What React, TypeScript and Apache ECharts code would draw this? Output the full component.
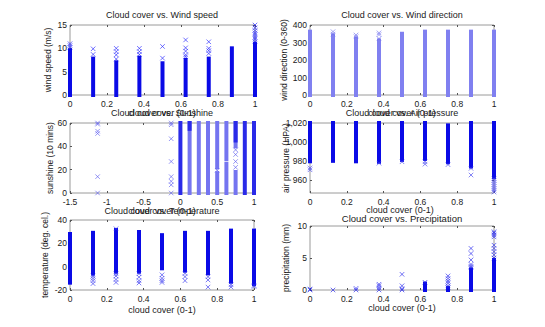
import React, { useEffect, useRef } from "react";
import * as echarts from "echarts";

// ---------- data ----------
const cloudCover = [0, 0.125, 0.25, 0.375, 0.5, 0.625, 0.75, 0.875, 1];
const cloudTicks = [0, 0.2, 0.4, 0.6, 0.8, 1];
const sunshineXTicks = [-1.5, -1, -0.5, 0, 0.5, 1];

// wind speed (m/s)
const windSpeedTicks = [0, 5, 10, 15];
const windSpeedDenseTop = [9.6, 7.8, 7.0, 8.0, 6.8, 7.5, 7.8, 10, 11];
const windSpeedMarks: number[][] = [
  [0, 10.2], [0, 10.6], [0, 11], [0.125, 8.7], [0.125, 9.9],
  [0.25, 7.7], [0.25, 8.6], [0.25, 9.3], [0.25, 10], [0.375, 8.7], [0.375, 9.3], [0.375, 10],
  [0.5, 7.9], [0.5, 10.4], [0.625, 8.2], [0.625, 8.6], [0.625, 9.4], [0.625, 10.1], [0.625, 11.8],
  [0.75, 8.9], [0.75, 9.5], [0.75, 10], [0.75, 11.4],
  [1, 11.5], [1, 12], [1, 12.4], [1, 12.9], [1, 13.3], [1, 13.8], [1, 14.4], [1, 15],
];

// wind direction (0-360)
const windDirTicks = [0, 100, 200, 300, 400];
const windDirDenseTop = [362, 340, 322, 312, 350, 362, 362, 362, 362];
const windDirMarks: number[][] = [
  [0.125, 348], [0.125, 362], [0.25, 333], [0.25, 343], [0.375, 322], [0.375, 345], [0.375, 355],
];

// sunshine (10 mins)
const sunshineTicks = [0, 20, 40, 60];
const sunshineDark: number[][] = [
  [0, 0, 60], [0.875, 0, 60], [1, 0, 60], [0.125, 55, 60], [0.75, 45, 60],
];
const sunshineLight: number[][] = [
  [0.125, 0, 60], [0.25, 0, 60], [0.375, 0, 60], [0.5, 0, 17], [0.5, 22, 60],
  [0.625, 0, 25], [0.625, 29, 60], [0.75, 0, 18], [0.75, 40, 60],
];
const sunshineMarks: number[][] = [
  [-1.125, 0], [-1.125, 14], [-1.125, 51], [-1.125, 53], [-1.125, 59], [-1.125, 60],
  [-0.125, 0], [-0.125, 7], [-0.125, 10], [-0.125, 14], [-0.125, 27], [-0.125, 46.5], [-0.125, 58.5], [-0.125, 60],
  [0.5, 19.5], [0.75, 22], [0.75, 27], [0.75, 33], [0.75, 37],
];

// air pressure (HPA)
const pressureTicks = [960, 980, 1000, 1020];
const pressureMin = 946;
const pressureDenseBottom = [979.5, 980, 979.5, 979, 981, 982, 978.5, 974, 963];
const pressureDenseTop = [1020, 1020, 1020, 1020, 1020, 1020, 1017.5, 1020, 1020];
const pressureMarks: number[][] = [
  [0, 972.5], [0, 970.5], [0.375, 977.5], [0.5, 979], [0.625, 979], [0.625, 976.5], [0.75, 976],
  [0.875, 972], [0.875, 965], [1, 961], [1, 959], [1, 957], [1, 955], [1, 953], [1, 951], [1, 949], [1, 947],
];

// temperature (deg. cel.)
const tempTicks = [-20, 0, 20, 40];
const tempDenseTop = [28, 29, 31.4, 29.7, 27, 29, 29, 30.9, 30.9];
const tempDenseBottom = [-13.7, -6, -4.3, -4.3, -1.4, -3.4, -5.7, -12.9, -14.9];
const tempMarks: number[][] = [
  [0.125, -8], [0.125, -10], [0.125, -12], [0.125, -14.5],
  [0.25, 32.5], [0.25, -6], [0.25, -8], [0.25, -11], [0.25, -13.5],
  [0.375, -6], [0.375, -9], [0.375, -12], [0.375, -14],
  [0.5, -7], [0.5, -10], [0.5, -12], [0.5, -13.5],
  [0.625, -5.7], [0.625, -8.6], [0.625, -12],
  [0.75, -8.6], [0.75, -11.4], [0.75, -17.5],
  [0.875, -15.5], [0.875, -17.5], [1, -16], [1, -17],
];

// precipitation (mm)
const precipTicks = [0, 5, 10];
const precipDense: number[][] = [[0.625, 0, 1.0], [0.75, 0, 0.3], [0.875, 0, 3.2], [1, 0, 4.7]];
const precipMarks: number[][] = [
  [0, 0], [0, 0.15], [0.125, 0], [0.25, 0], [0.25, 0.25],
  [0.375, 0], [0.375, 0.3], [0.375, 0.66], [0.375, 0.9],
  [0.5, 0], [0.5, 0.2], [0.5, 0.66], [0.5, 2.45], [0.625, 1.2],
  [0.75, 0.4], [0.75, 0.66], [0.75, 1.07], [0.75, 1.4], [0.75, 1.8], [0.75, 2.2],
  [0.875, 3.5], [0.875, 3.7], [0.875, 4.0], [0.875, 4.7], [0.875, 5.7], [0.875, 6.5],
  [1, 5.0], [1, 5.5], [1, 6.0], [1, 6.5], [1, 7.0], [1, 8.3], [1, 8.6], [1, 8.9], [1, 9.1],
];

// ---------- helpers ----------
const FONT = "Liberation Sans, Arial, Helvetica, sans-serif";
const TXT = "#1a1a1a";
const X_SYMBOL = "path://M0,0L10,10M10,0L0,10";
const BAR_W = 4;

function rangeSeries(i: number, data: number[][], fill: string, w = BAR_W) {
  return {
    type: "custom",
    xAxisIndex: i,
    yAxisIndex: i,
    clip: false,
    data,
    encode: { x: 0, y: [1, 2] },
    renderItem: (_p: any, api: any) => {
      const x = api.value(0);
      const lo = api.value(1);
      const hi = api.value(2);
      const a = api.coord([x, lo]);
      const b = api.coord([x, hi]);
      return {
        type: "rect",
        shape: { x: a[0] - w / 2, y: b[1] - 2, width: w, height: a[1] - b[1] + 4 },
        style: { fill },
      };
    },
  };
}

function markSeries(i: number, data: number[][], color = "#2020ff", size = 4.5) {
  return {
    type: "scatter",
    xAxisIndex: i,
    yAxisIndex: i,
    clip: false,
    data,
    symbol: X_SYMBOL,
    symbolSize: size,
    itemStyle: { color: "rgba(0,0,0,0)", borderColor: color, borderWidth: 0.8 },
  };
}

const grids = [
  { left: 70, top: 25, width: 185, height: 70 },
  { left: 310, top: 25, width: 184, height: 70 },
  { left: 70, top: 123, width: 184, height: 70 },
  { left: 310, top: 123, width: 184, height: 70 },
  { left: 70, top: 220, width: 184, height: 70 },
  { left: 310, top: 226, width: 184, height: 64 },
];

const xDefs = [
  { ticks: cloudTicks, min: 0, max: 1 },
  { ticks: cloudTicks, min: 0, max: 1 },
  { ticks: sunshineXTicks, min: -1.5, max: 1 },
  { ticks: cloudTicks, min: 0, max: 1 },
  { ticks: cloudTicks, min: 0, max: 1 },
  { ticks: cloudTicks, min: 0, max: 1 },
];
const yDefs = [
  { ticks: windSpeedTicks, min: 0, max: 15 },
  { ticks: windDirTicks, min: 0, max: 400 },
  { ticks: sunshineTicks, min: 0, max: 60 },
  { ticks: pressureTicks, min: pressureMin, max: 1020 },
  { ticks: tempTicks, min: -20, max: 40 },
  { ticks: precipTicks, min: 0, max: 10 },
];

function text(t: string, x: number, y: number, size = 9, rotate = false) {
  return {
    type: "text",
    x,
    y,
    rotation: rotate ? Math.PI / 2 : 0,
    silent: true,
    style: {
      text: t,
      fill: TXT,
      font: `${size}px ${FONT}`,
      align: "center",
      verticalAlign: "middle",
      textAlign: "center",
      textVerticalAlign: "middle",
    },
  };
}

export default function App() {
  const ref = useRef<HTMLDivElement>(null);
  useEffect(() => {
    if (!ref.current) return;
    const chart = echarts.init(ref.current, undefined, { renderer: "svg" });

    const tick = (ticks: number[]) => ({ show: true, inside: true, length: 2, lineStyle: { color: "#555" }, customValues: ticks });
    const noLine = { show: false, onZero: false };
    const xAxis: any[] = [];
    const yAxis: any[] = [];
    xDefs.forEach((d, i) => {
      xAxis.push({
        type: "value", gridIndex: i, min: d.min, max: d.max, position: "bottom",
        splitLine: { show: false }, axisLine: noLine,
        axisTick: tick(d.ticks),
        axisLabel: { show: true, fontSize: 8.5, color: TXT, margin: 4, fontFamily: FONT, customValues: d.ticks, showMinLabel: true, showMaxLabel: true },
      });
    });
    xDefs.forEach((d, i) => {
      xAxis.push({
        type: "value", gridIndex: i, min: d.min, max: d.max, position: "top",
        splitLine: { show: false }, axisLine: noLine,
        axisTick: tick(d.ticks), axisLabel: { show: false },
      });
    });
    yDefs.forEach((d, i) => {
      yAxis.push({
        type: "value", gridIndex: i, min: d.min, max: d.max, position: "left",
        splitLine: { show: false }, axisLine: noLine,
        axisTick: tick(d.ticks),
        axisLabel: { show: true, fontSize: 8.5, color: TXT, margin: 3, fontFamily: FONT, customValues: d.ticks, showMinLabel: true, showMaxLabel: true },
      });
    });
    yDefs.forEach((d, i) => {
      yAxis.push({
        type: "value", gridIndex: i, min: d.min, max: d.max, position: "right",
        splitLine: { show: false }, axisLine: noLine,
        axisTick: tick(d.ticks), axisLabel: { show: false },
      });
    });

    const DARK = "#0a0ae6";
    const series: any[] = [
      rangeSeries(0, cloudCover.map((x, k) => [x, 0, windSpeedDenseTop[k]]), DARK),
      markSeries(0, windSpeedMarks),
      rangeSeries(1, cloudCover.map((x, k) => [x, 0, windDirDenseTop[k]]), "#8080f0"),
      markSeries(1, windDirMarks, "#7070ee"),
      rangeSeries(2, sunshineLight, "#7474f0"),
      rangeSeries(2, sunshineDark, "#2a2ae8"),
      markSeries(2, sunshineMarks, "#5a5af0"),
      rangeSeries(3, cloudCover.map((x, k) => [x, pressureDenseBottom[k], pressureDenseTop[k]]), DARK),
      markSeries(3, pressureMarks, "#4040f0"),
      rangeSeries(4, cloudCover.map((x, k) => [x, tempDenseBottom[k], tempDenseTop[k]]), DARK),
      markSeries(4, tempMarks, "#3030f0"),
      rangeSeries(5, precipDense, DARK),
      markSeries(5, precipMarks, "#2020ee"),
    ];

    const graphic = [
      text("Cloud cover vs. Wind speed", 162, 15),
      text("Cloud cover vs. Wind direction", 402, 15),
      text("cloud cover (0-1)", 162, 113),
      text("Cloud cover vs. Sunshine", 162, 113),
      text("cloud cover (0-1)", 402, 113),
      text("Cloud cover vs. Air pressure", 402, 113),
      text("cloud cover (0-1)", 162, 211),
      text("Cloud cover vs. Temperature", 162, 211),
      text("cloud cover (0-1)", 400, 210),
      text("Cloud cover vs. Precipitation", 402, 218, 9.5),
      text("cloud cover (0-1)", 162, 310),
      text("cloud cover (0-1)", 402, 308),
      text("wind speed (m/s)", 48, 60, 8.5, true),
      text("wind direction (0-360)", 284, 60, 8.5, true),
      text("sunshine (10 mins)", 50, 158, 8.5, true),
      text("air pressure (HPA)", 286, 158, 8.5, true),
      text("temperature (deg. cel.)", 45, 255, 8.5, true),
      text("precipitation (mm)", 286, 258, 8.5, true),
    ];

    chart.setOption({
      animation: false,
      backgroundColor: "#ffffff",
      textStyle: { fontFamily: FONT },
      grid: grids.map((g) => ({ ...g, show: true, borderColor: "#9a9a9a", borderWidth: 1, backgroundColor: "#ffffff", containLabel: false })),
      xAxis,
      yAxis,
      series,
      graphic,
    });
    return () => chart.dispose();
  }, []);
  return <div ref={ref} style={{ position: "fixed", left: 0, top: 0, width: 545, height: 327 }} />;
}
